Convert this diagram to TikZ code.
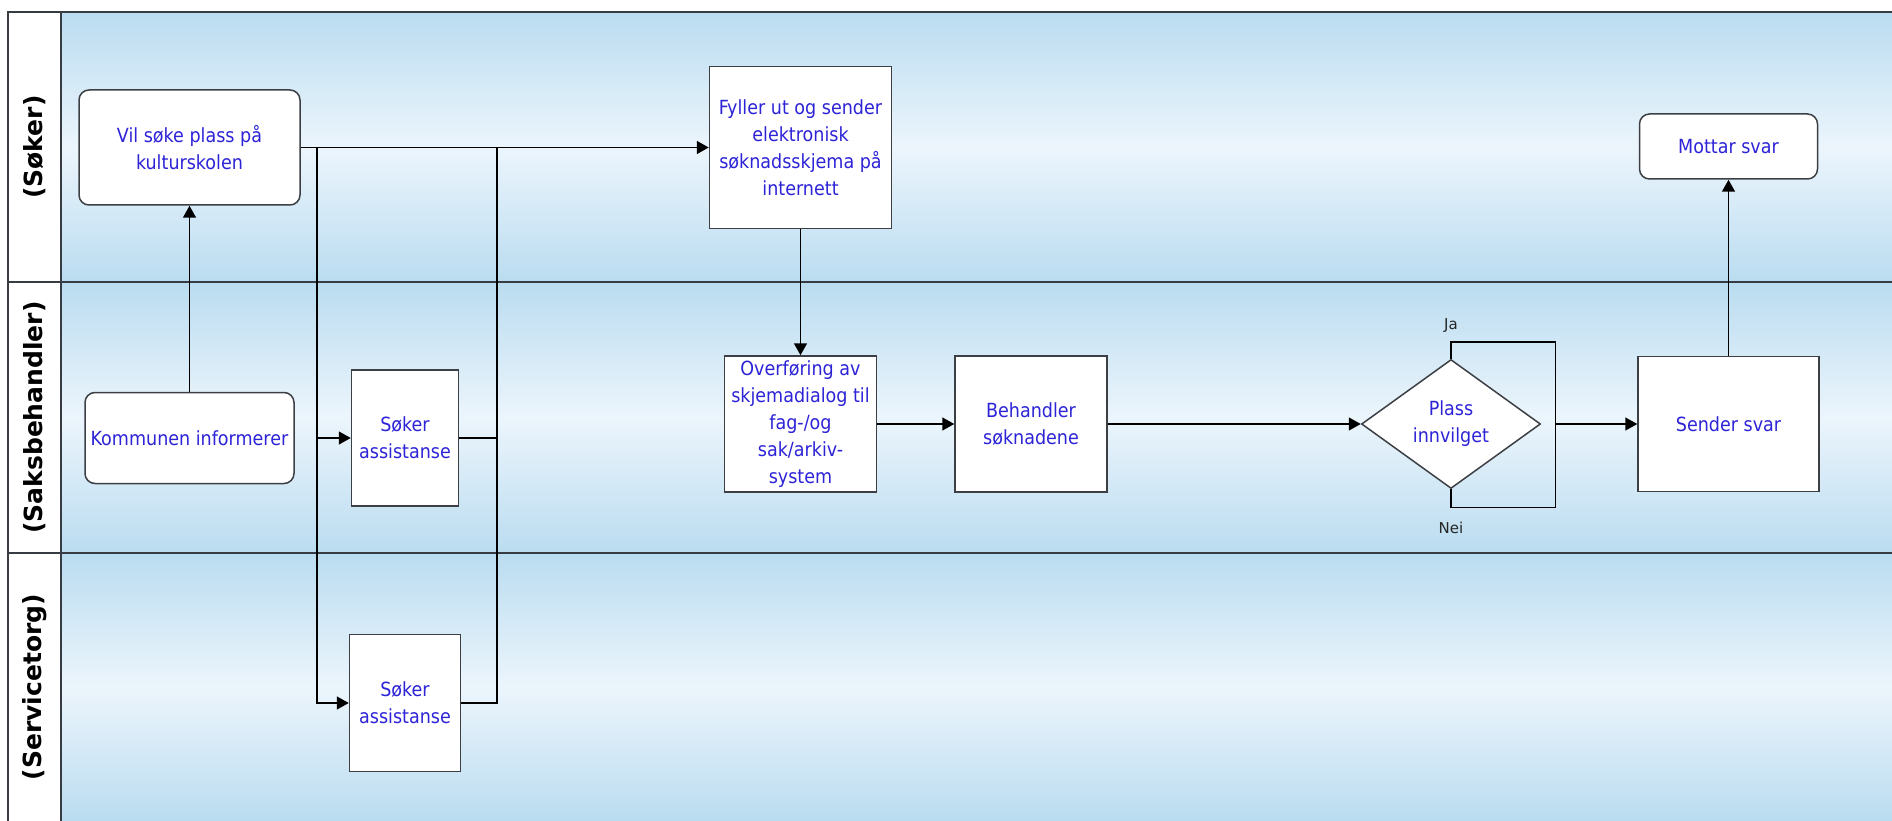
\documentclass[tikz,border=0pt]{standalone}
\usepackage{fontspec}
\setmainfont{DejaVu Sans}
\newfontfamily\boxfont{DejaVu Sans Condensed}
\usetikzlibrary{arrows.meta, positioning, shapes.geometric}

\definecolor{lanedark}{RGB}{186,220,240}
\definecolor{lanelight}{RGB}{236,245,252}
\definecolor{boxline}{RGB}{60,64,68}
\definecolor{boxtext}{RGB}{45,35,215}
\definecolor{bordergray}{RGB}{55,60,66}

\begin{document}
\begin{tikzpicture}
    [
        x=1pt, y=-1pt,
        task/.style = {
            rectangle, draw=boxline, fill=white, line width=1.5pt,
            inner sep=2pt, align=center, text=boxtext,
            font=\boxfont\fontsize{19.5}{27}\selectfont
            },
        event/.style = {
            task, rounded corners=10pt
            },
        decision/.style = {
            task, diamond, inner sep=0pt, minimum width=179pt, minimum height=129pt
            },
        flow/.style = {
            line width=1.5pt, -{Triangle[length=12pt, width=13pt]}
            },
        link/.style = {
            line width=1.5pt
            },
        border/.style = {
            draw=bordergray, line width=2pt
            },
        lanetitle/.style = {
            rotate=90, font=\bfseries\fontsize{25}{30}\selectfont
            },
        answer/.style = {
            inner sep=0pt, text=black!85, font=\fontsize{15}{18}\selectfont
            },
    ]
    %lanes
    \useasboundingbox (0,0) rectangle (1892,821);
    \foreach \ya/\yb in {12/282, 282/553, 553/821}
        \shade[top color=lanedark, bottom color=lanedark, middle color=lanelight] (61,\ya) rectangle (1892,\yb);
    \draw[border] (8,821) -- (8,12) -- (1892,12);
    \draw[border] (61,12) -- (61,821);
    \draw[border] (8,282) -- (1892,282);
    \draw[border] (8,553) -- (1892,553);
    \node[lanetitle] (soker) at (34.5,147) {(Søker)};
    \node[lanetitle] (saksbehandler) at (34.5,417.5) {(Saksbehandler)};
    \node[lanetitle] (servicetorg) at (34.5,687) {(Servicetorg)};

    %nodes
    \node[event, minimum width=221pt, minimum height=115pt] (vil) at (189.5,147.5) {Vil søke plass på\\kulturskolen};
    \node[event, minimum width=209pt, minimum height=91pt] (kommunen) [below=186pt of vil] {Kommunen informerer};
    \node[task, minimum width=107pt, minimum height=136pt] (assist saks) [right=56pt of kommunen] {Søker\\assistanse};
    \node[task, minimum width=111pt, minimum height=137pt] (assist service) [below=127pt of assist saks] {Søker\\assistanse};
    \node[task, minimum width=182pt, minimum height=162pt] (fyller) [right=408pt of vil] {Fyller ut og sender\\elektronisk\\søknadsskjema på\\internett};
    \node[task, minimum width=152pt, minimum height=136pt] (overforing) [below=126pt of fyller] {Overføring av\\skjemadialog til\\fag-/og\\sak/arkiv-\\system};
    \node[task, minimum width=152pt, minimum height=136pt] (behandler) [right=77pt of overforing] {Behandler\\søknadene};
    \node[decision] (plass) [right=253pt of behandler] {Plass\\innvilget};
    \node[task, minimum width=181pt, minimum height=135pt] (sender) [right=96pt of plass] {Sender svar};
    \node[event, minimum width=178pt, minimum height=65pt] (mottar) [above=176pt of sender] {Mottar svar};
    \node[answer] (ja) [above=26pt of plass.north] {Ja};
    \node[answer] (nei) [below=33pt of plass.south] {Nei};
    \coordinate (split) at ([xshift=16pt]vil.east);
    \coordinate (join) at ([xshift=-212pt]fyller.west);
    \coordinate (merge) at ([xshift=14pt]plass.east);

    %connecting nodes
    \draw[flow] (kommunen) -- (vil);
    \draw[flow] (vil) -- (fyller);
    \draw[flow] (split) |- (assist saks);
    \draw[flow] (split) |- (assist service);
    \draw[link] (assist saks) -| (join);
    \draw[link] (assist service) -| (join);
    \draw[flow] (fyller) -- (overforing);
    \draw[flow] (overforing) -- (behandler);
    \draw[flow] (behandler) -- (plass);
    \draw[link] (plass.north) -- ++(0,-17) -| (merge);
    \draw[link] (plass.south) -- ++(0,18) -| (merge);
    \draw[flow] (merge) -- (sender);
    \draw[flow] (sender) -- (mottar);

\end{tikzpicture}
\end{document}
